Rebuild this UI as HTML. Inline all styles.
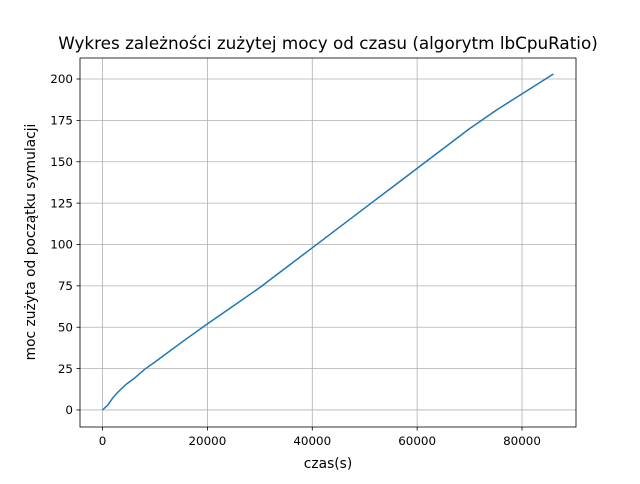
<!DOCTYPE html>
<html><head><meta charset="utf-8"><style>
body{margin:0;background:#fff;font-family:"DejaVu Sans","Liberation Sans",sans-serif;}
svg text{font-family:"DejaVu Sans","Liberation Sans",sans-serif;}
</style></head><body>
<svg id="c" width="640" height="480" xmlns="http://www.w3.org/2000/svg">
<rect width="640" height="480" fill="#fff"/>
<g id="grid"></g>
<g id="ticks"></g>
<polyline id="line" fill="none" stroke="#1f77b4" stroke-width="1.5"/>
<rect x="80" y="58" width="496" height="369" fill="none" stroke="#000" stroke-width="0.8"/>
<text x="328" y="49" text-anchor="middle" font-size="16.8">Wykres zależności zużytej mocy od czasu (algorytm lbCpuRatio)</text>
<text x="328" y="468" text-anchor="middle" font-size="13.8">czas(s)</text>
<text transform="translate(35,242) rotate(-90)" text-anchor="middle" font-size="13.8">moc zużyta od początku symulacji</text>
</svg>
<script>
const xTicks=[0,20000,40000,60000,80000];
const yTicks=[0,25,50,75,100,125,150,175,200];
const times=[0,1000,2000,3000,4500,6000,8000,10000,13000,16000,20000,25000,30000,35000,40000,45000,50000,55000,60000,65000,70000,75000,80000,84000,86000];
const power=[0,3,7.5,11,15.5,19,24.5,29,36,43,52,63,74,86,98,110,122,134,146,158,170,181,191,199,203];
const L=80,R=576,T=58,B=427,xmin=-4300,xmax=90300,ymin=-10.3,ymax=212.7;
const sx=v=>L+(v-xmin)/(xmax-xmin)*(R-L);
const sy=v=>B-(v-ymin)/(ymax-ymin)*(B-T);
const NS="http://www.w3.org/2000/svg";
const g=document.getElementById('grid'),t=document.getElementById('ticks');
function mk(tag,a,p){const e=document.createElementNS(NS,tag);for(const k in a)e.setAttribute(k,a[k]);p.appendChild(e);return e;}
xTicks.forEach(v=>{const x=sx(v);
const gl=mk('line',{x1:x,x2:x,y1:T,y2:B,stroke:'#b0b0b0','stroke-width':0.8},g);


mk('line',{x1:x,x2:x,y1:B,y2:B+3.5,stroke:'#000','stroke-width':0.8},t);
const tx=mk('text',{x:x,y:B+18,'text-anchor':'middle','font-size':11.9},t);tx.textContent=v;

});
yTicks.forEach(v=>{const y=sy(v);
const gl=mk('line',{x1:L,x2:R,y1:y,y2:y,stroke:'#b0b0b0','stroke-width':0.8},g);


mk('line',{x1:L-3.5,x2:L,y1:y,y2:y,stroke:'#000','stroke-width':0.8},t);
const tx=mk('text',{x:L-7,y:y+4.2,'text-anchor':'end','font-size':11.9},t);tx.textContent=v;

});
document.getElementById('line').setAttribute('points',times.map((v,i)=>sx(v)+','+sy(power[i])).join(' '));
</script>
</body></html>
